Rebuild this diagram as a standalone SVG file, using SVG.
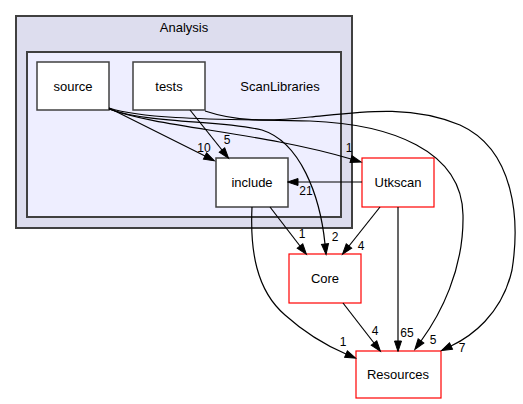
<svg xmlns="http://www.w3.org/2000/svg" width="523" height="404" viewBox="0 0 523 404">
<defs>
<marker id="arr" markerUnits="userSpaceOnUse" markerWidth="12" markerHeight="10" refX="0" refY="4" orient="auto" viewBox="0 0 12 8" overflow="visible">
<path d="M0,0.5 L10.5,4 L0,7.5 z" fill="#000" stroke="#000" stroke-width="1"/>
</marker>
<style>
text{font-family:"Liberation Sans",Arial,sans-serif;fill:#000}
.n{font-size:13px;text-anchor:middle}
.l{font-size:12px;text-anchor:middle}
.cl{stroke:#404040;stroke-width:2}
.box{fill:#fff;stroke:#404040;stroke-width:1.5}
.red{fill:#fff;stroke:#ff0000;stroke-width:1.2}
.e{fill:none;stroke:#000;stroke-width:1.2;marker-end:url(#arr)}
</style>
</defs>
<rect width="523" height="404" fill="#fff"/>
<g id="cluster_Analysis">
<rect class="cl" x="16" y="16" width="336" height="212" fill="#ddddee"/>
<text class="n" x="184" y="32">Analysis</text>
</g>
<g id="cluster_ScanLibraries">
<rect class="cl" x="27" y="52" width="314" height="165" fill="#eeeeff"/>
<text class="n" x="280" y="91">ScanLibraries</text>
</g>
<g id="node_source">
<rect class="box" x="37" y="62" width="72" height="48"/>
<text class="n" x="73" y="91">source</text>
</g>
<g id="node_tests">
<rect class="box" x="133" y="62" width="72" height="48"/>
<text class="n" x="169" y="91">tests</text>
</g>
<g id="node_include">
<rect class="box" x="216" y="158" width="72" height="49"/>
<text class="n" x="252" y="187">include</text>
</g>
<g id="node_Utkscan">
<rect class="red" x="362" y="158" width="72" height="49"/>
<text class="n" x="398" y="187">Utkscan</text>
</g>
<g id="node_Core">
<rect class="red" x="289" y="254" width="72" height="49"/>
<text class="n" x="325" y="283">Core</text>
</g>
<g id="node_Resources">
<rect class="red" x="356" y="351" width="85" height="47"/>
<text class="n" x="398" y="379">Resources</text>
</g>
<g id="edges">
<path class="e" d="M109,108 L205,156"/>
<text class="l" x="204" y="152">10</text>
<path class="e" d="M190,110 L222,150"/>
<text class="l" x="227" y="144">5</text>
<path class="e" d="M109,109 C160,128 260,132 351,159"/>
<text class="l" x="349" y="152">1</text>
<path class="e" d="M109,109 C150,124 220,120 262,130 C300,142 320,195 325,244"/>
<text class="l" x="335" y="241">2</text>
<path class="e" d="M109,108 C150,121 240,119 310,121 C390,124 462,150 463,215 C464,270 440,315 421,341"/>
<text class="l" x="433" y="344">5</text>
<path class="e" d="M205,111 C235,121 265,122 310,117 C360,112 410,104 460,125 C515,150 520,220 512,270 C502,315 470,337 451,346"/>
<text class="l" x="462" y="352">7</text>
<path class="e" d="M362,182 L298,182"/>
<text class="l" x="306" y="195">21</text>
<path class="e" d="M270,207 L300,246"/>
<text class="l" x="302" y="238">1</text>
<path class="e" d="M380,207 L349,246"/>
<text class="l" x="361" y="250">4</text>
<path class="e" d="M252,207 C250,250 256,290 285,315 C305,333 325,345 346,354"/>
<text class="l" x="343" y="346">1</text>
<path class="e" d="M398,207 L398,341"/>
<text class="l" x="407" y="337">65</text>
<path class="e" d="M343,303 L374,343"/>
<text class="l" x="375" y="335">4</text>
</g>
</svg>
